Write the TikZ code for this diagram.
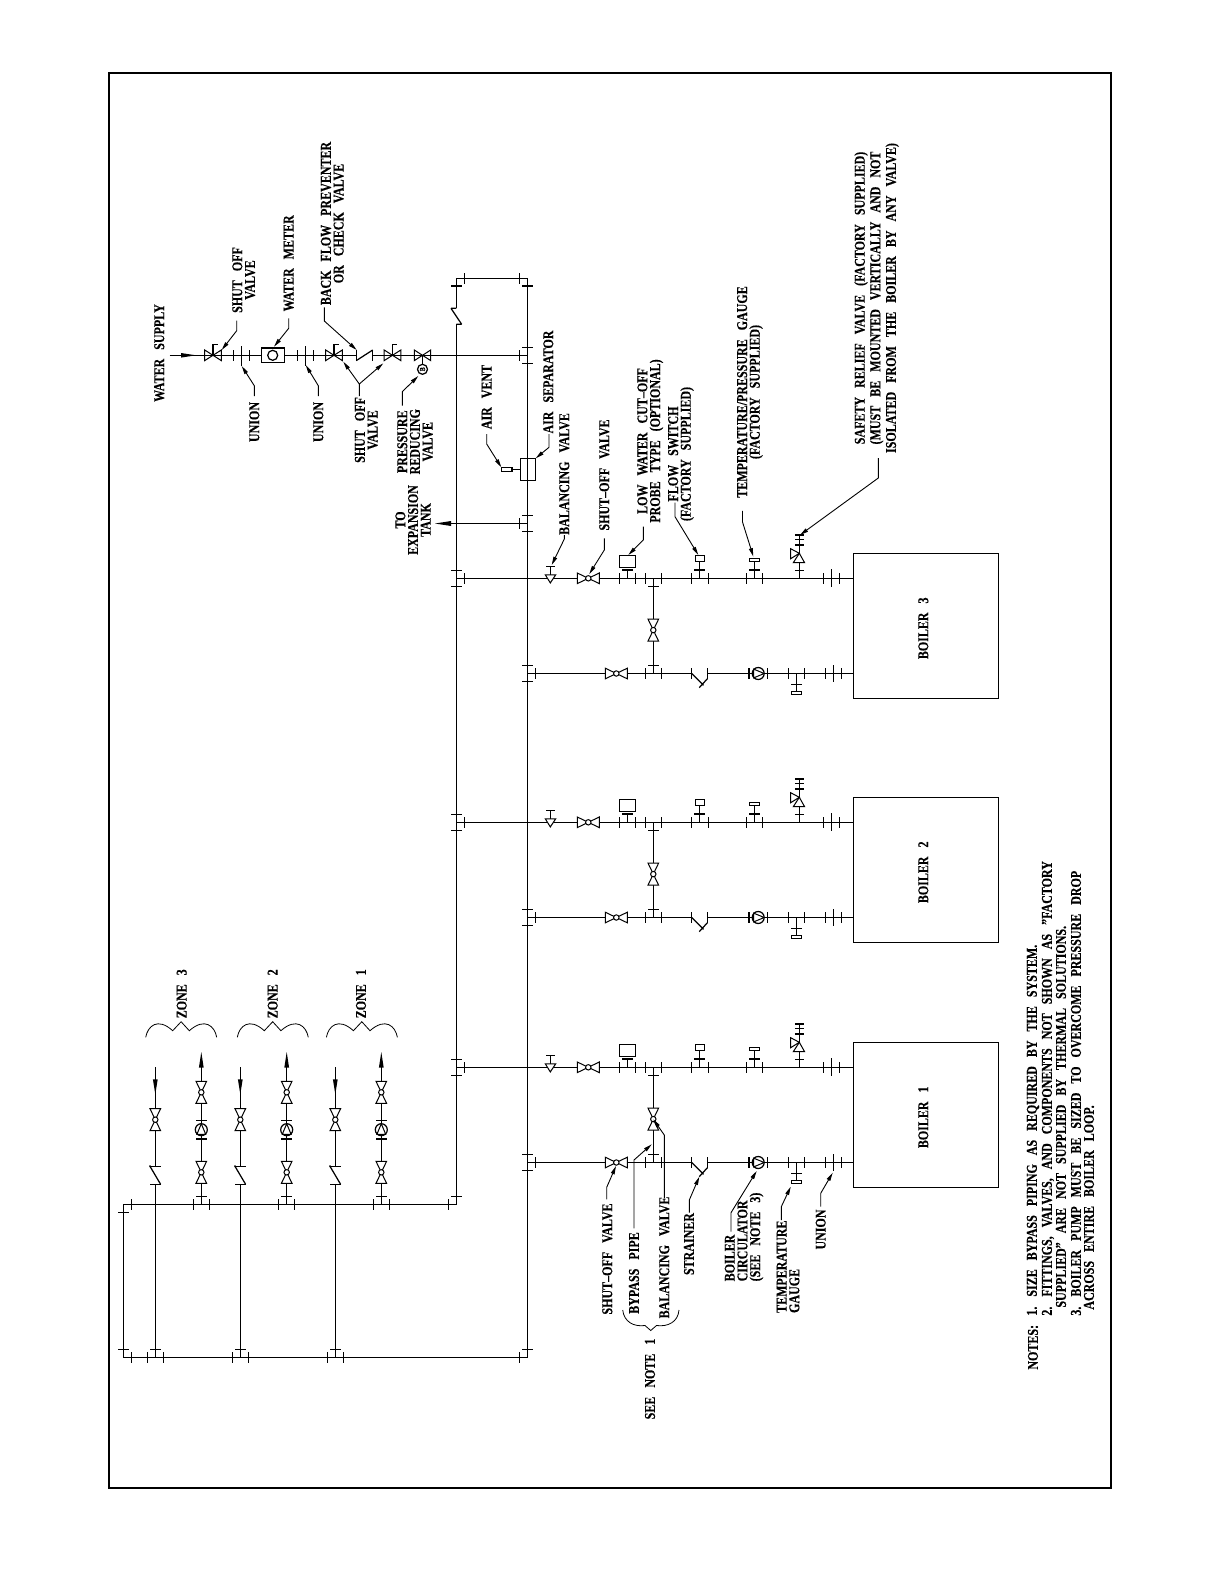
\documentclass[tikz,border=0pt]{standalone}
\usepackage{fontspec}
\setmainfont{Liberation Serif}[FakeStretch=0.80,WordSpace=3.0,BoldFeatures={FakeBold=0.25}]
\usetikzlibrary{arrows.meta}
\newcommand\tickv[2]{\draw[pipe] (#1,#2-5.3) -- (#1,#2+5.3);}
\newcommand\tickh[2]{\draw[pipe] (#1-5.3,#2) -- (#1+5.3,#2);}
\tikzset{
  pipe/.style={line width=0.62pt,line cap=butt,line join=miter},
  thinsym/.style={line width=0.5pt,fill=white},
  lbl/.style={rotate=90,inner sep=0pt,font=\fontsize{7.5}{6.35}\selectfont\bfseries,align=center},
  lblstart/.style={lbl,anchor=west},
  leader/.style={line width=0.45pt,-{Stealth[inset=0pt,length=4.2pt,width=1.9pt]}},
  bracelin/.style={line width=0.4pt},
  boilerbox/.style={draw,line width=0.62pt,minimum size=72.5pt,inner sep=0pt},
  pics/ballvalve/.style={code={
    \draw[thinsym] (-11,-5.3)--(11,5.3)--(11,-5.3)--(-11,5.3)--cycle;
    \draw[thinsym] (0,0) circle[radius=2.7];}},
  pics/gatevalve/.style={code={
    \draw[pipe] (0,0)--(0,-10.7)--(4.8,-10.7);
    \draw[thinsym,fill=none] (-8.3,-5.3)--(8.3,5.3)--(8.3,-5.3)--(-8.3,5.3)--cycle;}},
  pics/pumpsym/.style={code={
    \draw[pipe,fill=white] (0,0) circle[radius=6];
    \draw[thinsym,fill=none] (6,0)--(-4.6,-4.4)--(-4.6,4.4)--cycle;
    \draw[pipe] (-9.2,-5.3)--(-9.2,5.3) (9.2,-5.3)--(9.2,5.3);}},
  pics/boilerset/.style={code={
    % supply line
    \draw[pipe] (456.3,0)--(853.3,0);
    \tickv{464.5}{0}
    \tickh{456.3}{-8}\tickh{456.3}{8}
    % balancing valve
    \draw[pipe] (550.3,0)--(550.3,-11.5) (546,-11.5)--(554.8,-11.5);
    \draw[thinsym] (545.3,-3.5)--(555.7,-3.5)--(550.3,4.6)--cycle;
    % shut-off
    \pic at (588.3,0) {ballvalve};
    % low water cut-off
    \tickv{619.7}{0}\tickv{635.7}{0}
    \draw[pipe] (627.7,0)--(627.7,-8.3) (622.4,-8.3)--(633,-8.3);
    \draw[pipe,fill=white] (619.5,-23) rectangle (635.7,-10.7);
    % bypass tee
    \tickv{645.7}{0}\tickv{661.3}{0}
    \tickh{653.3}{8}
    \draw[pipe] (653.3,0)--(653.3,95.2);
    \tickh{653.3}{87.2}
    \pic[rotate=90] at (653.3,51.8) {ballvalve};
    % flow switch
    \tickv{691.7}{0}\tickv{708.3}{0}
    \draw[pipe] (699.7,0)--(699.7,-16.7) (694.4,-8.3)--(705,-8.3);
    \draw[pipe,fill=white] (695.2,-23) rectangle (704.7,-16.7);
    % temperature/pressure gauge
    \tickv{746.7}{0}\tickv{762.3}{0}
    \draw[pipe] (754.3,0)--(754.3,-16.7) (749,-8.3)--(759.6,-8.3);
    \draw[pipe,fill=white] (749.2,-20) rectangle (759.7,-16.7);
    % relief valve
    \draw[pipe] (799.3,0)--(799.3,-43.3);
    \draw[pipe] (794.8,-8) -- (803.8,-8);
    \draw[pipe] (794.8,-33.3)--(803.8,-33.3) (794.8,-38.6)--(803.8,-38.6) (794.8,-43.3)--(803.8,-43.3);
    \draw[thinsym] (793.3,-15.6)--(804.6,-15.6)--(799.3,-25)--cycle;
    \draw[thinsym] (790.7,-29.6)--(790.7,-19.6)--(799.3,-25)--cycle;
    % supply union
    \tickv{823.3}{0}\tickv{839.3}{0}
    \draw[pipe] (831.3,-9)--(831.3,8.5);
    % return line
    \draw[pipe] (527.3,95.2)--(691.7,95.2) (707.3,95.2)--(853.3,95.2);
    \tickv{535.3}{95.2}
    \tickh{527.3}{87.2}\tickh{527.3}{103.2}
    \pic at (616.3,95.2) {ballvalve};
    \tickv{645.7}{95.2}\tickv{661.3}{95.2}
    % strainer
    \tickv{691.7}{95.2}\tickv{707.3}{95.2}
    \draw[pipe] (691.7,95.2)--(703.5,107) (707.3,100.5)--(699.3,109.3);
    % pump
    \pic at (758.2,95.2) {pumpsym};
    % temperature gauge
    \tickv{788.7}{95.2}\tickv{804.3}{95.2}
    \draw[pipe] (796.3,95.2)--(796.3,113) (791,106)--(801.6,106);
    \draw[pipe,fill=white] (791.3,113) rectangle (801.3,116.3);
    % return union
    \tickv{825.3}{95.2}\tickv{841.3}{95.2}
    \draw[pipe] (833.3,86.7)--(833.3,103.7);
  }},
  pics/zoneset/.style n args={3}{code={
    % supply side
    \draw[pipe] (#1,1357.3)--(#1,1184.3);
    \draw[pipe] (#1,1166.3)--(#1,1067.3);
    \tickh{#1}{1349.3}
    \tickv{#1-8}{1357.3}\tickv{#1+8}{1357.3}
    \tickh{#1}{1184.3}\tickh{#1}{1166.3}
    \draw[pipe] (#1-5.3,1166.3)--(#1+5.3,1184.3);
    \fill (#1-5.3,1166) circle[radius=1];
    \pic[rotate=90] at (#1,1119.7) {ballvalve};
    \fill (#1-2.4,1079.3)--(#1+2.4,1079.3)--(#1,1094.3)--cycle;
    % return side
    \draw[pipe] (#2,1204.3)--(#2,1067);
    \tickv{#2-8}{1204.3}\tickv{#2+8}{1204.3}
    \tickh{#2}{1196.3}
    \pic[rotate=90] at (#2,1172.3) {ballvalve};
    \pic[rotate=90] at (#2,1129.7) {pumpsym};
    \pic[rotate=90] at (#2,1092.3) {ballvalve};
    \fill (#2-2.4,1067.7)--(#2+2.4,1067.7)--(#2,1052)--cycle;
    % brace
    \draw[bracelin] (#3,1037.3) .. controls (#3+2,1026) and (#3+12,1017) .. (#3+27,1030.7)
      -- (#3+35.4,1021.7) -- (#3+43.6,1030.7)
      .. controls (#3+59,1017) and (#3+69,1026) .. (#3+71,1037.3);
  }},
}
\begin{document}
\begin{tikzpicture}[x=0.5pt,y=-0.5pt]
\useasboundingbox (0,0) rectangle (1225,1585);
\draw[line width=1pt] (108.8,72.7) rectangle (1111,1487.7);

% main pipes
\draw[pipe] (456.3,324.3)--(456.3,1204.3)--(123.3,1204.3)--(123.3,1357.3)--(527.3,1357.3)--(527.3,278.3)--(456.3,278.3)--(456.3,308.3);
\tickv{464.3}{278.3}\tickv{519.7}{278.3}
\tickh{456.3}{286}\tickh{527.3}{286}
\tickv{448.5}{1204.3}\tickh{456.3}{1196.3}
\tickv{519.3}{1357.3}\tickh{527.3}{1349.3}
\tickv{131.3}{1204.3}\tickh{123.3}{1212.3}
\tickv{131.3}{1357.3}\tickh{123.3}{1349.3}
% check valve in the left pipe
\draw[pipe] (451,308.3)--(456.3,308.3) (456.3,324.3)--(461.7,324.3) (451,308.3)--(461.7,324.3);

% boilers
\node[boilerbox] (boilerC) at (925.8,625.8) {};
\node[boilerbox] (boilerB) at (925.8,869.8) {};
\node[boilerbox] (boilerA) at (925.8,1114.8) {};
\node[lbl] (tBa) at (923.3,1117.3) {BOILER 1};
\node[lbl] (tBb) at (923.3,872.3) {BOILER 2};
\node[lbl] (tBc) at (923.3,628.3) {BOILER 3};
\pic at (0,578.3) {boilerset};
\pic at (0,822.3) {boilerset};
\pic at (0,1067.3) {boilerset};

% zones
\pic at (0,0) {zoneset={155.3}{201.3}{145.7}};
\pic at (0,0) {zoneset={240.3}{286.7}{237.3}};
\pic at (0,0) {zoneset={335.3}{381.3}{326.4}};
\node[lbl] (zoneC) at (181.7,993.8) {ZONE 3};
\node[lbl] (zoneB) at (272.7,993.8) {ZONE 2};
\node[lbl] (zoneA) at (361,993.8) {ZONE 1};

% water supply line
\draw[pipe] (169.5,355.3)--(356.3,355.3) (372.7,355.3)--(527.3,355.3);
\fill (181,353)--(181,357.6)--(196,355.3)--cycle;
\pic at (213,355.3) {gatevalve};
\tickv{233.3}{355.3}\tickv{249.3}{355.3}
\draw[pipe] (241.3,346)--(241.3,365.5);
\draw[pipe,fill=white] (261.3,348) rectangle (284.7,362.7);
\draw[pipe] (272.7,355.3) circle[radius=5];
\tickv{297.3}{355.3}\tickv{313.3}{355.3}
\draw[pipe] (305.3,346)--(305.3,365.5);
\pic at (334,355.3) {gatevalve};
\tickv{356.3}{355.3}\tickv{372.7}{355.3}
\draw[pipe] (356.3,360.6)--(372.7,350);
\pic at (392.5,355.3) {gatevalve};
\draw[thinsym,fill=none] (414.3,350)--(430.7,360.6)--(430.7,350)--(414.3,360.6)--cycle;
\draw[pipe] (422.5,355.3)--(422.5,364.3);
\draw[pipe,fill=white] (422.5,369.3) circle[radius=5];
\node[rotate=90,inner sep=0pt,font=\fontsize{3.8}{4}\selectfont\bfseries] (prvb) at (422.5,369.3) {B};
\tickv{519.3}{355.3}\tickh{527.3}{347.3}\tickh{527.3}{363.3}

% air separator and vent
\draw[pipe] (520.3,458.3) rectangle (535.7,480.3);
\draw[pipe] (501.3,467.3) rectangle (512,471.3);
\draw[pipe] (512,469.3)--(520.3,469.3);

% expansion tank branch
\draw[pipe] (527.3,523.5)--(445,523.5);
\fill (451,521)--(451,526)--(435,523.5)--cycle;
\tickv{519.3}{523.5}\tickh{527.3}{515.5}\tickh{527.3}{531.5}

% leaders
\draw[leader] (236.7,320.7)--(236.7,330.7)--(221.7,350);
\draw[leader] (288.7,318.3)--(288.7,328.3)--(274,346.7);
\draw[leader] (324.3,307.3)--(324.3,321)--(356.7,350);
\draw[leader] (254.3,396)--(254.3,385.7)--(241.7,366);
\draw[leader] (318.3,396)--(318.3,385.7)--(305.7,365);
\draw[leader] (359.3,396)--(359.3,384)--(343.3,361.7);
\draw[leader] (359.3,384)--(383.3,363.3);
\draw[leader] (402.3,405.7)--(402.3,391.7)--(418.3,376);
\draw[leader] (486.7,434)--(486.7,444)--(501.3,467.3);
\draw[leader] (549,434)--(549,447.3)--(535.7,458.3);
\draw[leader] (564.3,535)--(564.3,539)--(551.7,565);
\draw[leader] (604.3,538.3)--(604.3,550)--(589.3,574);
\draw[leader] (643.3,526.7)--(643.3,540)--(628.3,555);
\draw[leader] (675,502.7)--(675,516.7)--(698.3,555);
\draw[leader] (742.5,510.8)--(742.5,522)--(753.3,556.5);
\draw[leader] (878.3,458)--(878.3,478)--(800,535);
\draw[leader] (606.7,1199.3)--(606.7,1187.3)--(616,1166);
\draw[leader] (634,1228.3)--(634,1160)--(651.7,1144.3);
\draw[leader] (664.3,1198.3)--(664.3,1135)--(653.3,1119.3);
\draw[leader] (689.3,1212.7)--(689.3,1200)--(699.3,1176.7);
\draw[leader] (731,1231.7)--(731,1212.7)--(756.7,1171);
\draw[leader] (781.3,1220)--(781.3,1206.7)--(790.7,1186.7);
\draw[leader] (820.7,1206.7)--(820.7,1193.3)--(832.7,1172.7);
\draw[bracelin] (622.7,1310) .. controls (624,1322) and (634,1327) .. (645,1325.5) -- (650.7,1330.5) -- (656.5,1325.5) .. controls (668,1327) and (678,1322) .. (679,1310);

% labels
\node[lbl] (tWS) at (159.3,353) {WATER SUPPLY};
\node[lbl] (tSOa) at (243.7,280) {SHUT OFF\\VALVE};
\node[lbl] (tWM) at (288.7,263.3) {WATER METER};
\node[lbl] (tBF) at (332.3,223.5) {BACK FLOW PREVENTER\\OR CHECK VALVE};
\node[lbl] (tUa) at (254.3,422) {UNION};
\node[lbl] (tUb) at (318.3,422) {UNION};
\node[lbl] (tSOb) at (366.3,430) {SHUT OFF\\VALVE};
\node[lbl] (tPR) at (415,441.7) {PRESSURE\\REDUCING\\VALVE};
\node[lbl] (tAV) at (486.7,397) {AIR VENT};
\node[lbl] (tAS) at (548.3,382) {AIR SEPARATOR};
\node[lbl] (tTO) at (413,520) {TO\\EXPANSION\\TANK};
\node[lbl] (tBV) at (564.3,474) {BALANCING VALVE};
\node[lbl] (tSV) at (604.3,475) {SHUT--OFF VALVE};
\node[lbl] (tLW) at (650.3,441) {LOW WATER CUT--OFF\\PROBE TYPE (OPTIONAL)};
\node[lbl] (tFS) at (681,454) {FLOW SWITCH\\(FACTORY SUPPLIED)};
\node[lbl] (tTP) at (750,392) {TEMPERATURE/PRESSURE GAUGE\\(FACTORY SUPPLIED)};
\node[lbl] (tSR) at (876.7,298) {SAFETY RELIEF VALVE (FACTORY SUPPLIED)\\(MUST BE MOUNTED VERTICALLY AND NOT\\ISOLATED FROM THE BOILER BY ANY VALVE)};
\node[lbl] (tSVb) at (607.3,1259) {SHUT--OFF VALVE};
\node[lbl] (tBP) at (634,1273) {BYPASS PIPE};
\node[lbl] (tBVb) at (664.3,1257.5) {BALANCING VALVE};
\node[lbl] (tSN) at (650,1379) {SEE NOTE 1};
\node[lbl] (tST) at (689,1244) {STRAINER};
\node[lblstart,align=left] (tBC) at (744,1281.7) {BOILER\\CIRCULATOR\\(SEE NOTE 3)};
\node[lblstart,align=left] (tTG) at (788,1313.3) {TEMPERATURE\\GAUGE};
\node[lbl] (tUc) at (820.7,1229.5) {UNION};
\node[lblstart] (nN) at (1033,1370) {NOTES:};
\node[lblstart] (n1) at (1033,1316) {1. SIZE BYPASS PIPING AS REQUIRED BY THE SYSTEM.};
\node[lblstart] (n2) at (1048,1316) {2. FITTINGS, VALVES, AND COMPONENTS NOT SHOWN AS "FACTORY};
\node[lblstart] (n2b) at (1061,1308) {SUPPLIED" ARE NOT SUPPLIED BY THERMAL SOLUTIONS.};
\node[lblstart] (n3) at (1076,1316) {3. BOILER PUMP MUST BE SIZED TO OVERCOME PRESSURE DROP};
\node[lblstart] (n3b) at (1089,1310) {ACROSS ENTIRE BOILER LOOP.};
\end{tikzpicture}
\end{document}
